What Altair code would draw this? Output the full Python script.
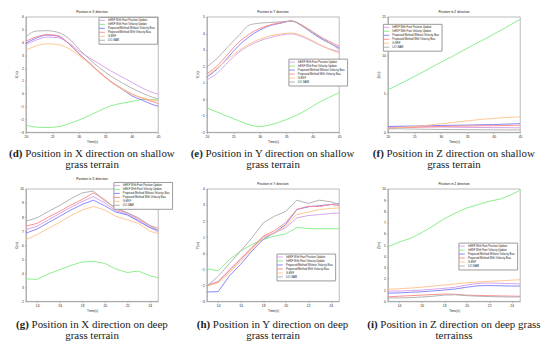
import altair as alt
import pandas as pd

SERIES = ["InEKF With Foot Position Update", "InEKF With Foot Velocity Update",
          "Proposed Method Without Velocity Bias", "Proposed Method With Velocity Bias",
          "G-EKF", "LIO-SAM"]
COLORS = ["#d49be6", "#80ec80", "#7b7bff", "#ff8484", "#ffc285", "#ababab"]

T_SHALLOW = [20, 22, 24, 26, 28, 30, 32, 34, 36, 38, 40, 42, 44, 45]
T_DEEP = [13, 14, 15, 16, 17, 18, 19, 20, 21, 22, 23, 24, 24.75]

# order of each list: SERIES order
X_SHALLOW = [
    [3.85, 4.2, 4.42, 4.38, 4.0, 3.35, 2.8, 2.3, 1.8, 1.35, 0.9, 0.45, 0.1, -0.05],
    [-2.45, -2.6, -2.63, -2.58, -2.35, -2.05, -1.7, -1.3, -0.95, -0.75, -0.6, -0.45, -0.45, -0.5],
    [3.95, 4.35, 4.58, 4.5, 3.95, 3.15, 2.4, 1.65, 0.95, 0.4, -0.15, -0.5, -0.85, -0.97],
    [4.1, 4.45, 4.62, 4.55, 3.95, 3.15, 2.4, 1.65, 1.0, 0.45, 0.0, -0.35, -0.62, -0.75],
    [3.4, 3.75, 3.9, 3.85, 3.55, 3.0, 2.35, 1.6, 0.95, 0.4, -0.05, -0.3, -0.5, -0.55],
    [4.45, 4.9, 4.92, 4.8, 4.35, 3.5, 2.7, 2.0, 1.4, 0.9, 0.45, 0.05, -0.28, -0.4],
]
Y_SHALLOW = [
    [1.18, 1.6, 2.25, 2.85, 3.25, 3.55, 3.75, 3.9, 3.97, 3.8, 3.5, 3.2, 2.98, 2.9],
    [-0.53, -0.78, -1.05, -1.3, -1.55, -1.65, -1.55, -1.35, -1.1, -0.8, -0.42, -0.05, 0.25, 0.41],
    [1.35, 1.85, 2.55, 3.25, 3.8, 4.2, 4.48, 4.62, 4.75, 4.45, 4.0, 3.6, 3.28, 3.12],
    [1.56, 2.05, 2.75, 3.45, 3.95, 4.3, 4.52, 4.65, 4.75, 4.5, 4.1, 3.7, 3.38, 3.23],
    [1.45, 1.9, 2.45, 2.95, 3.35, 3.65, 3.85, 3.97, 4.02, 3.85, 3.55, 3.2, 2.92, 2.81],
    [1.97, 2.5, 3.2, 3.85, 4.5, 4.62, 4.66, 4.7, 4.75, 4.45, 4.05, 3.65, 3.25, 3.02],
]
Z_SHALLOW = [
    [0.65, 0.68, 0.7, 0.72, 0.7, 0.68, 0.66, 0.64, 0.62, 0.62, 0.6, 0.6, 0.58, 0.58],
    [5.5, 6.2, 6.9, 7.6, 8.35, 9.1, 9.8, 10.55, 11.3, 12.0, 12.75, 13.5, 14.3, 14.65],
    [0.75, 0.78, 0.8, 0.82, 0.85, 0.88, 0.9, 0.92, 0.95, 0.98, 1.0, 1.05, 1.1, 1.12],
    [0.55, 0.6, 0.62, 0.65, 0.7, 0.75, 0.78, 0.8, 0.82, 0.85, 0.85, 0.87, 0.9, 0.9],
    [0.5, 0.6, 0.7, 0.8, 0.95, 1.1, 1.25, 1.4, 1.55, 1.7, 1.8, 1.9, 1.97, 2.0],
    [0.45, 0.45, 0.42, 0.4, 0.38, 0.36, 0.35, 0.34, 0.33, 0.32, 0.31, 0.3, 0.3, 0.3],
]

X_DEEP = [
    [7.1, 7.35, 7.8, 8.25, 8.7, 9.1, 9.45, 9.0, 8.45, 8.2, 7.75, 7.3, 6.9],
    [3.6, 3.56, 3.95, 4.25, 4.55, 4.8, 4.85, 4.7, 4.3, 4.05, 4.15, 3.82, 3.68],
    [6.85, 7.15, 7.6, 8.05, 8.5, 8.9, 9.2, 8.8, 8.35, 8.15, 7.7, 7.25, 7.05],
    [7.35, 7.55, 8.0, 8.4, 8.85, 9.25, 9.72, 9.25, 8.55, 8.3, 7.85, 7.4, 7.2],
    [6.4, 6.75, 7.2, 7.62, 8.1, 8.5, 8.75, 8.5, 8.05, 7.8, 7.55, 7.0, 6.8],
    [7.7, 7.95, 8.4, 8.82, 9.3, 9.72, 9.85, 9.15, 8.65, 8.3, 7.95, 7.4, 7.05],
]
Y_DEEP = [
    [-2.0, -1.75, -1.05, -0.35, 0.35, 1.0, 1.25, 1.58, 2.2, 2.34, 2.4, 2.47, 2.5],
    [-0.97, -1.1, -0.4, 0.13, 0.54, 0.85, 1.06, 1.2, 1.6, 1.53, 1.52, 1.52, 1.52],
    [-2.42, -2.4, -1.42, -0.7, 0.13, 0.85, 1.27, 1.78, 2.72, 2.88, 2.96, 3.03, 3.09],
    [-2.05, -1.8, -1.1, -0.4, 0.34, 1.05, 1.4, 1.9, 2.72, 2.92, 2.9, 3.03, 2.95],
    [-2.05, -1.85, -1.22, -0.5, 0.23, 0.96, 1.27, 1.68, 2.41, 2.55, 2.72, 2.78, 2.82],
    [-2.05, -1.45, -0.65, 0.13, 0.95, 1.88, 2.3, 2.6, 3.3, 3.1, 3.3, 3.2, 3.03],
]
Z_DEEP = [
    [0.9, 0.92, 0.95, 1.0, 1.08, 1.15, 1.25, 1.45, 1.6, 1.62, 1.6, 1.58, 1.55],
    [4.85, 5.27, 5.6, 6.1, 6.7, 7.35, 7.85, 8.3, 8.6, 8.9, 9.1, 9.5, 9.88],
    [0.72, 0.75, 0.8, 0.85, 0.92, 1.0, 1.1, 1.25, 1.38, 1.4, 1.38, 1.36, 1.35],
    [0.4, 0.45, 0.5, 0.55, 0.6, 0.65, 0.62, 0.55, 0.52, 0.5, 0.48, 0.46, 0.45],
    [1.07, 1.12, 1.18, 1.25, 1.35, 1.45, 1.55, 1.65, 1.72, 1.78, 1.82, 1.88, 1.92],
    [0.3, 0.3, 0.32, 0.38, 0.45, 0.55, 0.58, 0.5, 0.45, 0.42, 0.4, 0.38, 0.4],
]

TITLES = ["Position in X direction", "Position in Y direction", "Position in Z direction"]
YLABELS = ["X(m)", "Y(m)", "Z(m)"]
TAGS = ["(d)", "(e)", "(f)", "(g)", "(h)", "(i)"]
CAP1 = ["Position in X direction on shallow", "Position in Y direction on shallow",
        "Position in Z direction on shallow", "Position in X direction on deep",
        "Position in Y direction on deep", "Position in Z direction on deep grass"]
CAP2 = ["grass terrain", "grass terrain", "grass terrain", "grass terrain",
        "grass terrain", "terrainss"]

SANS = "Liberation Sans"
SERIF = "Liberation Serif"
CAP_SIZE = 11
W = 133

# Times/Liberation Serif advance widths (1/1000 em), for centring the two-part caption
REG = {' ': 250, '(': 333, ')': 333, 'P': 556, 'X': 722, 'Y': 722, 'Z': 611, 'a': 444,
       'c': 444, 'd': 500, 'e': 444, 'f': 333, 'g': 500, 'h': 500, 'i': 278, 'l': 278,
       'n': 500, 'o': 500, 'p': 500, 'r': 333, 's': 389, 't': 278, 'w': 722}
BOLD = {'(': 333, ')': 333, 'd': 556, 'e': 444, 'f': 333, 'g': 500, 'h': 556, 'i': 278}


def text_w(s, table):
    return sum(table.get(c, 500) for c in s) * CAP_SIZE / 1000.0


def panel(idx, t, values, ydom, yticks, xdom, xticks, lx, ly, h, interp):
    rows = []
    for name, vals in zip(SERIES, values):
        for tt, vv in zip(t, vals):
            rows.append({"t": tt, "v": vv, "s": name})
    df = pd.DataFrame(rows)
    col = idx % 3
    lines = alt.Chart(df).mark_line(strokeWidth=0.9, interpolate=interp).encode(
        x=alt.X("t:Q", scale=alt.Scale(domain=xdom, nice=False, zero=False),
                axis=alt.Axis(values=xticks, title="Time(s)", labelFlush=False)),
        y=alt.Y("v:Q", scale=alt.Scale(domain=ydom, nice=False, zero=False),
                axis=alt.Axis(values=yticks, title=YLABELS[col])),
        color=alt.Color("s:N", sort=SERIES,
                        scale=alt.Scale(domain=SERIES, range=COLORS),
                        legend=alt.Legend(title=None, orient="none", legendX=lx, legendY=ly,
                                          symbolType="M-2.4,0L2.4,0", symbolSize=6,
                                          symbolStrokeWidth=0.9, labelFontSize=2.7,
                                          labelFont=SANS, labelColor="#222", rowPadding=0,
                                          padding=1.5, strokeColor="#9a9a9a",
                                          fillColor="white", labelOffset=4, zindex=1,
                                          labelLimit=200)),
    )
    cap = pd.DataFrame({"tag": [TAGS[idx]], "rest": [CAP1[idx]], "l2": [CAP2[idx]]})
    tw = text_w(TAGS[idx], BOLD)
    total = tw + text_w(" " + CAP1[idx], REG)
    x0 = W / 2 - total / 2
    y1 = h + (22 if idx < 3 else 24)
    tag = alt.Chart(cap).mark_text(font=SERIF, fontSize=CAP_SIZE, fontWeight="bold",
                                   align="left", baseline="middle", color="#1a1a1a").encode(
        x=alt.value(x0), y=alt.value(y1), text="tag:N")
    rest = alt.Chart(cap).mark_text(font=SERIF, fontSize=CAP_SIZE, align="left",
                                    baseline="middle", color="#1a1a1a").encode(
        x=alt.value(x0 + tw + 0.25 * CAP_SIZE), y=alt.value(y1), text="rest:N")
    l2 = alt.Chart(cap).mark_text(font=SERIF, fontSize=CAP_SIZE, align="center",
                                  baseline="middle", color="#1a1a1a").encode(
        x=alt.value(W / 2), y=alt.value(y1 + 11), text="l2:N")
    return alt.layer(lines, tag, rest, l2).properties(
        width=W, height=h,
        title=alt.Title(TITLES[col], fontSize=3.3, font=SANS, fontWeight="normal",
                        color="#111", offset=1.5))


xs_t = [20, 25, 30, 35, 40, 45]
xd_t = [14, 16, 18, 20, 22, 24]
panels = [
    panel(0, T_SHALLOW, X_SHALLOW, [-3, 6], list(range(-3, 7)), [20, 45], xs_t, 73, 0, 116, "monotone"),
    panel(1, T_SHALLOW, Y_SHALLOW, [-2, 5], list(range(-2, 6)), [20, 45], xs_t, 82, 42, 116, "monotone"),
    panel(2, T_SHALLOW, Z_SHALLOW, [0, 15], [0, 5, 10, 15], [20, 45], xs_t, -5, 7, 116, "monotone"),
    panel(3, T_DEEP, X_DEEP, [2, 10], list(range(2, 11)), [13, 24.75], xd_t, 88, -7, 113, "linear"),
    panel(4, T_DEEP, Y_DEEP, [-3, 4], list(range(-3, 5)), [13, 24.75], xd_t, 70, 65, 113, "linear"),
    panel(5, T_DEEP, Z_DEEP, [0, 10], list(range(0, 11)), [13, 24.75], xd_t, 71, 54, 113, "linear"),
]

chart = alt.concat(*panels, columns=3, spacing={"row": 57, "column": 49},
                   bounds="flush", align="each").resolve_scale(
    color="independent").resolve_legend(color="independent").properties(
    padding={"left": 0, "top": 0, "right": 0, "bottom": 0}, background="white"
).configure_view(stroke="#8c8c8c", strokeWidth=0.6).configure_axis(
    labelFont=SANS, labelFontSize=3.3, labelColor="#222",
    titleFont=SANS, titleFontSize=3.3, titleFontWeight="normal", titleColor="#222",
    domainColor="#8c8c8c", domainWidth=0.6, tickColor="#8c8c8c", tickSize=1.5,
    tickWidth=0.5, labelPadding=1, titlePadding=1.5, grid=False
)

chart.save("out.html", embed_options={"renderer": "svg", "actions": False})
